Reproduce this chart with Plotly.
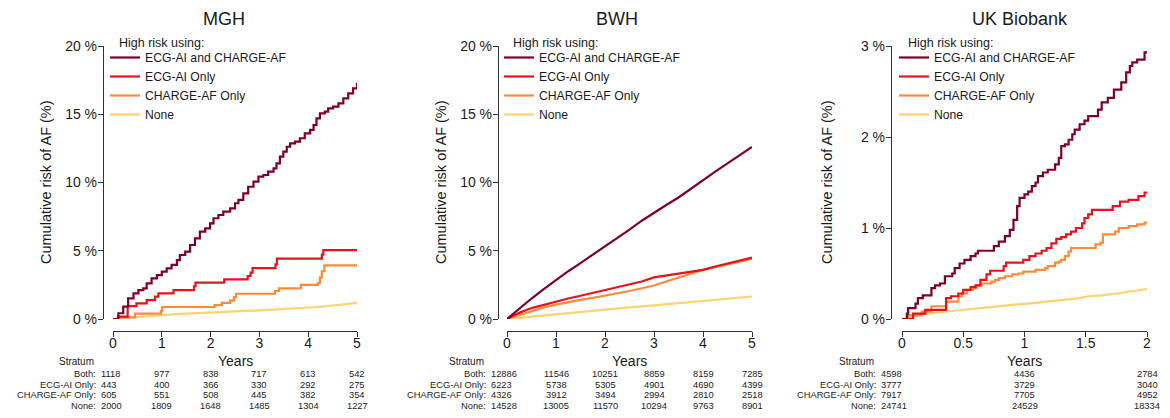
import plotly.graph_objects as go

# page has an 8px body margin: figure fills the rest of the 1170x418 window
OFF = 8
W, H = 1170 - OFF, 418 - OFF
FONT = "Liberation Sans, Arial, Helvetica, sans-serif"
TXT = "#1a1a1a"

groups = ["ECG-AI and CHARGE-AF", "ECG-AI Only", "CHARGE-AF Only", "None"]
colors = ["#7f0026", "#e3141c", "#fc8a3b", "#fed26e"]
row_labels = ["Both:", "ECG-AI Only:", "CHARGE-AF Only:", "None:"]

# ---------------- MGH ----------------
mgh_both_t = [0, 0.11, 0.21, 0.31, 0.42, 0.52, 0.62, 0.69, 0.79, 0.90, 1.00, 1.10, 1.20, 1.31, 1.37,
              1.48, 1.58, 1.68, 1.78, 1.89, 1.99, 2.06, 2.16, 2.26, 2.40, 2.50, 2.57, 2.67, 2.77,
              2.88, 2.98, 3.08, 3.18, 3.29, 3.35, 3.42, 3.49, 3.56, 3.63, 3.73, 3.83, 3.93, 4.04,
              4.11, 4.17, 4.24, 4.34, 4.41, 4.51, 4.62, 4.72, 4.82, 4.92, 5.0]
mgh_both_v = [0, 0.42, 0.90, 1.51, 1.88, 2.12, 2.25, 2.61, 2.98, 3.22, 3.47, 3.71, 3.96, 4.32, 4.69,
              4.93, 5.42, 5.91, 6.40, 6.64, 7.01, 7.38, 7.62, 7.86, 8.11, 8.48, 8.72, 9.21, 9.69,
              10.06, 10.43, 10.55, 10.79, 11.04, 11.40, 11.89, 12.26, 12.62, 12.87, 12.99, 13.24,
              13.60, 13.85, 14.21, 14.70, 15.07, 15.19, 15.43, 15.56, 15.80, 16.17, 16.53, 16.90, 17.30]
mgh_ecg_t = [0, 0.10, 0.30, 0.48, 0.69, 0.86, 0.93, 1.24, 1.66, 1.69, 2.28, 2.76, 2.82, 2.86,
             3.33, 3.36, 4.28, 4.31, 5.0]
mgh_ecg_v = [0, 0.17, 0.95, 1.14, 1.39, 1.64, 1.88, 2.12, 2.40, 2.66, 2.91, 3.15, 3.40, 3.72,
             4.00, 4.42, 4.72, 5.05, 5.05]
mgh_charge_t = [0, 0.15, 0.45, 0.98, 1.01, 2.08, 2.23, 2.40, 2.48, 2.52, 3.32, 3.40, 3.85,
                4.20, 4.24, 4.28, 4.33, 5.0]
mgh_charge_v = [0, 0.12, 0.40, 0.60, 0.88, 1.02, 1.18, 1.35, 1.60, 1.85, 2.05, 2.25, 2.50,
                2.65, 3.05, 3.50, 3.93, 3.93]
mgh_none_t = [0, 0.20, 0.45, 0.70, 0.95, 1.20, 1.50, 1.80, 2.10, 2.40, 2.70, 3.00, 3.30, 3.60,
              3.90, 4.20, 4.40, 4.55, 4.70, 4.85, 5.0]
mgh_none_v = [0, 0.06, 0.14, 0.21, 0.28, 0.34, 0.40, 0.46, 0.50, 0.55, 0.59, 0.63, 0.68, 0.74,
              0.80, 0.88, 0.95, 1.02, 1.08, 1.13, 1.18]

# ---------------- BWH ----------------
bwh_both_t = [0, 0.25, 0.5, 0.75, 1.0, 1.25, 1.5, 1.75, 2.0, 2.25, 2.5, 2.75, 3.0, 3.25, 3.5,
              3.75, 4.0, 4.25, 4.5, 4.75, 5.0]
bwh_both_v = [0, 0.78, 1.50, 2.18, 2.85, 3.50, 4.10, 4.70, 5.30, 5.95, 6.55, 7.20, 7.80, 8.35,
              8.90, 9.55, 10.20, 10.80, 11.40, 12.00, 12.60]
bwh_ecg_t = [0, 0.25, 0.5, 0.75, 1.0, 1.25, 1.5, 1.75, 2.0, 2.25, 2.5, 2.75, 3.0, 3.25, 3.5,
             3.75, 4.0, 4.25, 4.5, 4.75, 5.0]
bwh_ecg_v = [0, 0.45, 0.80, 1.05, 1.25, 1.50, 1.70, 1.90, 2.10, 2.30, 2.50, 2.75, 3.05, 3.20,
             3.35, 3.48, 3.60, 3.85, 4.05, 4.30, 4.50]
bwh_charge_t = [0, 0.25, 0.5, 0.75, 1.0, 1.25, 1.5, 1.75, 2.0, 2.25, 2.5, 2.75, 3.0, 3.25, 3.5,
                3.75, 4.0, 4.25, 4.5, 4.75, 5.0]
bwh_charge_v = [0, 0.30, 0.60, 0.85, 1.05, 1.25, 1.40, 1.55, 1.70, 1.88, 2.05, 2.25, 2.45, 2.75,
                3.05, 3.35, 3.60, 3.80, 4.00, 4.20, 4.40]
bwh_none_t = [0, 0.5, 1.0, 1.5, 2.0, 2.5, 3.0, 3.5, 4.0, 4.5, 5.0]
bwh_none_v = [0, 0.18, 0.35, 0.52, 0.70, 0.85, 1.00, 1.15, 1.30, 1.48, 1.65]

# ---------------- UK Biobank ----------------
ukb_both_t = [0, 0.04, 0.05, 0.11, 0.13, 0.17, 0.24, 0.27, 0.31, 0.35, 0.41, 0.43, 0.47, 0.51,
              0.56, 0.60, 0.62, 0.75, 0.79, 0.84, 0.88, 0.91, 0.94, 0.96, 1.00, 1.03, 1.06,
              1.09, 1.11, 1.15, 1.19, 1.25, 1.28, 1.30, 1.33, 1.36, 1.39, 1.41, 1.45, 1.49,
              1.52, 1.60, 1.63, 1.68, 1.73, 1.79, 1.83, 1.86, 1.88, 1.92, 1.98, 2.0]
ukb_both_v = [0, 0.06, 0.12, 0.17, 0.23, 0.26, 0.34, 0.37, 0.39, 0.47, 0.50, 0.56, 0.61, 0.65,
              0.69, 0.72, 0.75, 0.80, 0.85, 0.91, 0.98, 1.09, 1.24, 1.33, 1.37, 1.40, 1.46,
              1.50, 1.57, 1.61, 1.64, 1.70, 1.77, 1.90, 1.92, 1.97, 2.03, 2.08, 2.14, 2.18,
              2.23, 2.30, 2.38, 2.43, 2.52, 2.60, 2.71, 2.78, 2.82, 2.85, 2.93, 2.93]
ukb_ecg_t = [0, 0.09, 0.19, 0.36, 0.40, 0.46, 0.50, 0.56, 0.60, 0.64, 0.69, 0.72, 0.83, 0.85,
             0.99, 1.04, 1.09, 1.14, 1.18, 1.22, 1.26, 1.30, 1.34, 1.38, 1.42, 1.47, 1.49,
             1.52, 1.55, 1.72, 1.78, 1.85, 1.93, 1.98, 2.0]
ukb_ecg_v = [0, 0.06, 0.10, 0.23, 0.25, 0.28, 0.32, 0.35, 0.37, 0.43, 0.49, 0.53, 0.58, 0.62,
             0.65, 0.69, 0.72, 0.75, 0.78, 0.83, 0.88, 0.90, 0.93, 0.96, 1.00, 1.05, 1.11,
             1.15, 1.20, 1.24, 1.29, 1.31, 1.35, 1.39, 1.39]
ukb_charge_t = [0, 0.05, 0.16, 0.24, 0.36, 0.46, 0.49, 0.53, 0.58, 0.61, 0.65, 0.73, 0.76,
                0.79, 0.84, 0.90, 0.95, 0.99, 1.09, 1.17, 1.19, 1.25, 1.28, 1.30, 1.33, 1.36,
                1.38, 1.58, 1.62, 1.64, 1.74, 1.77, 1.85, 1.92, 1.98, 2.0]
ukb_charge_v = [0, 0.04, 0.08, 0.14, 0.19, 0.25, 0.28, 0.32, 0.34, 0.37, 0.39, 0.41, 0.43,
                0.45, 0.47, 0.49, 0.50, 0.52, 0.54, 0.56, 0.58, 0.62, 0.63, 0.65, 0.69, 0.74,
                0.78, 0.82, 0.84, 0.93, 0.96, 1.00, 1.02, 1.04, 1.06, 1.06]
ukb_none_t = [0, 0.10, 0.21, 0.35, 0.49, 0.62, 0.76, 0.90, 1.03, 1.17, 1.30, 1.45, 1.52, 1.63,
              1.75, 1.85, 1.95, 2.0]
ukb_none_v = [0, 0.03, 0.06, 0.08, 0.10, 0.12, 0.14, 0.155, 0.17, 0.19, 0.21, 0.23, 0.25, 0.26,
              0.28, 0.30, 0.32, 0.33]

# ---------------- risk tables ----------------
mgh_times = [0, 1, 2, 3, 4, 5]
mgh_risk = [[1118, 977, 838, 717, 613, 542],
            [443, 400, 366, 330, 292, 275],
            [605, 551, 508, 445, 382, 354],
            [2000, 1809, 1648, 1485, 1304, 1227]]
bwh_times = [0, 1, 2, 3, 4, 5]
bwh_risk = [[12886, 11546, 10251, 8859, 8159, 7285],
            [6223, 5738, 5305, 4901, 4690, 4399],
            [4326, 3912, 3494, 2994, 2810, 2518],
            [14528, 13005, 11570, 10294, 9763, 8901]]
ukb_times = [0, 1, 2]
ukb_risk = [[4598, 4436, 2784],
            [3777, 3729, 3040],
            [7917, 7705, 4952],
            [24741, 24529, 18334]]

panels = [
    dict(title="MGH", curves=[(mgh_both_t, mgh_both_v), (mgh_ecg_t, mgh_ecg_v),
                              (mgh_charge_t, mgh_charge_v), (mgh_none_t, mgh_none_v)],
         shapes=["hv", "hv", "hv", "linear"],
         xr=[0, 5], xt=[0, 1, 2, 3, 4, 5], yr=[0, 20], yt=[0, 5, 10, 15, 20],
         times=mgh_times, risk=mgh_risk,
         left=0, x0=113, x1=357, yax=103, title_x=224, ylab_x=46, first_shift=-13),
    dict(title="BWH", curves=[(bwh_both_t, bwh_both_v), (bwh_ecg_t, bwh_ecg_v),
                              (bwh_charge_t, bwh_charge_v), (bwh_none_t, bwh_none_v)],
         shapes=["linear", "linear", "linear", "linear"],
         xr=[0, 5], xt=[0, 1, 2, 3, 4, 5], yr=[0, 20], yt=[0, 5, 10, 15, 20],
         times=bwh_times, risk=bwh_risk,
         left=390, x0=507, x1=752, yax=498, title_x=617, ylab_x=441, first_shift=-17),
    dict(title="UK Biobank", curves=[(ukb_both_t, ukb_both_v), (ukb_ecg_t, ukb_ecg_v),
                                     (ukb_charge_t, ukb_charge_v), (ukb_none_t, ukb_none_v)],
         shapes=["hv", "hv", "hv", "linear"],
         xr=[0, 2], xt=[0, 0.5, 1, 1.5, 2], yr=[0, 3], yt=[0, 1, 2, 3],
         times=ukb_times, risk=ukb_risk,
         left=780, x0=902, x1=1147, yax=891, title_x=1020, ylab_x=827, first_shift=-22),
]

# layout positions are given in window pixels, converted to paper fractions
Y_TOP, Y_BOT, X_LINE = 46, 319, 331
ROW0, ROW_STEP, TABLE_FS = 374, 10.5, 9.3
px = lambda v: (v - OFF) / W
py = lambda v: (418 - v) / H

fig = go.Figure()
annotations = []
layout = dict(width=W, height=H, autosize=False,
              margin=dict(l=0, r=0, t=0, b=0, pad=0, autoexpand=False),
              paper_bgcolor="white", plot_bgcolor="white",
              font=dict(family=FONT, color=TXT), showlegend=True)


def note(text, x, y, xref="paper", xanchor="center", size=11, **kw):
    d = dict(text=text, x=x, y=y, xref=xref, yref="paper", xanchor=xanchor,
             yanchor="middle", showarrow=False, borderpad=0,
             font=dict(size=size, color=TXT, family=FONT))
    d.update(kw)
    annotations.append(d)


for i, p in enumerate(panels):
    k = "" if i == 0 else str(i + 1)
    xa, ya, lg = "x" + k, "y" + k, "legend" + k
    for g in [3, 2, 1, 0]:  # draw None first, Both on top
        t, v = p["curves"][g]
        fig.add_trace(go.Scatter(x=t, y=v, mode="lines", name=groups[g],
                                 line=dict(color=colors[g], width=2.2, shape=p["shapes"][g]),
                                 xaxis=xa, yaxis=ya, legend=lg, legendrank=g + 1,
                                 hoverinfo="skip"))
    axis_common = dict(showgrid=False, zeroline=False, showline=True, linecolor="#333",
                       linewidth=1.3, ticks="outside", ticklen=5, tickwidth=1.3,
                       tickcolor="#333", automargin=False,
                       tickfont=dict(size=14, color=TXT, family=FONT))
    layout["xaxis" + k] = dict(axis_common, domain=[px(p["x0"]), px(p["x1"])], range=p["xr"],
                               tickvals=p["xt"], anchor="free", position=py(X_LINE),
                               ticklabelstandoff=-6)
    layout["yaxis" + k] = dict(axis_common, domain=[py(Y_BOT), py(Y_TOP)], range=p["yr"],
                               tickvals=p["yt"], ticktext=[f"{v} %" for v in p["yt"]],
                               anchor="free", position=px(p["yax"]), ticklabelstandoff=-2)
    layout[lg] = dict(x=px(p["x0"] - 8), y=py(43), xanchor="left", yanchor="top",
                      bgcolor="rgba(0,0,0,0)", font=dict(size=12.2, color=TXT, family=FONT),
                      traceorder="normal", tracegroupgap=0, itemclick=False)
    note("High risk using:", px(p["x0"] + 5), py(43), xanchor="left", size=12.5)
    note(p["title"], px(p["title_x"]), py(19), size=18)
    note("Cumulative risk of AF (%)", px(p["ylab_x"]), py(182), size=14.5, textangle=-90)
    note("Years", 0.5, py(360.5), xref=xa + " domain", size=14)
    note("Stratum", px(p["left"] + 76), py(361.5), size=10)
    for r in range(4):
        ry = py(ROW0 + r * ROW_STEP)
        note(row_labels[r], px(p["left"] + 97), ry, xanchor="right", size=TABLE_FS)
        for c, tm in enumerate(p["times"]):
            n = str(p["risk"][r][c])
            if c == 0:
                note(n, tm, ry, xref=xa, xanchor="left", size=TABLE_FS, xshift=p["first_shift"])
            else:
                note(n, tm, ry, xref=xa, xanchor="center", size=TABLE_FS)

layout["annotations"] = annotations
fig.update_layout(**layout)
fig.write_html("out.html")
